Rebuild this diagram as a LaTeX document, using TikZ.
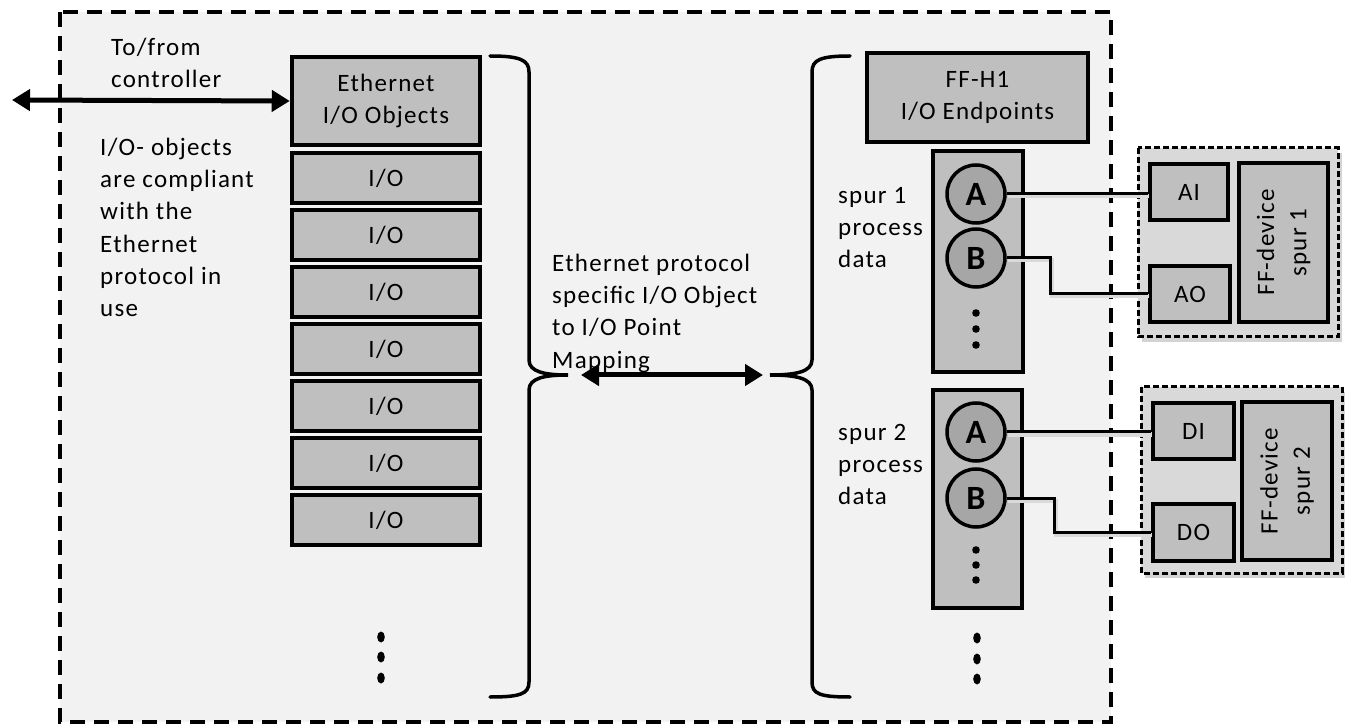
\documentclass[tikz,border=0pt]{standalone}
\usepackage{fontspec}
\setmainfont{Carlito}[LetterSpace=5]
\newfontfamily\circfont{Carlito}[LetterSpace=0]
\usetikzlibrary{arrows.meta,shadows,calc}

\definecolor{panelbg}{HTML}{F2F2F2}
\definecolor{boxgray}{HTML}{BFBFBF}
\definecolor{devgray}{HTML}{D9D9D9}
\definecolor{circgray}{HTML}{A6A6A6}

\newcommand\txtfont{\fontsize{25}{32.2}\selectfont}

\tikzset{
  panel/.style={draw=black, fill=panelbg, line width=4pt, dash pattern=on 15pt off 9pt},
  graybox/.style={draw=black, fill=boxgray, line width=4.5pt, inner sep=0pt, align=center, font=\txtfont},
  iobox/.style={graybox, minimum width=188pt, minimum height=50pt},
  column/.style={draw=black, fill=boxgray, line width=4.5pt, inner sep=0pt},
  point/.style={circle, draw=black, fill=circgray, line width=3.5pt, minimum size=58pt, inner sep=0pt,
                font=\circfont\bfseries\fontsize{34}{34}\selectfont},
  devpanel/.style={draw=black, fill=devgray, line width=3pt, dash pattern=on 6pt off 3pt,
                   drop shadow={opacity=0.35, shadow xshift=4pt, shadow yshift=-5pt}},
  label/.style={font=\txtfont, align=left, anchor=north west, inner sep=0pt},
  brace/.style={draw=black, line width=3.5pt, line cap=round},
  wire/.style={draw=black, line width=3pt,
               preaction={draw=black!15, line width=4pt, transform canvas={shift={(1.5pt,-2.5pt)}}}},
  bigarrow/.style={line width=5pt, {Triangle[length=18pt,width=21pt]}-{Triangle[length=18pt,width=21pt]}},
}

\begin{document}
\begin{tikzpicture}[x=1pt,y=-1pt]
\useasboundingbox (0,0) rectangle (1345,727);

% dashed frame of the gateway
\path[panel] (60,12) rectangle (1111,722);

% Ethernet side: object stack
\node[graybox, minimum width=188pt, minimum height=88pt] (eth) at (386,101) {Ethernet\\I/O Objects};
\foreach \i/\y in {1/178,2/235,3/292,4/349,5/406,6/463,7/520}
  \node[iobox] (io\i) at (386,\y) {I/O};
\foreach \y in {637,657,678}
  \fill (381,\y) ellipse (3.8pt and 5.5pt);

% texts on the left
\node[label] (ctrltxt) at (111,38) {To/from\\controller};
\node[label] (compl) at (100,138) {I/O- objects\\are compliant\\with the\\Ethernet\\protocol in\\use};

\coordinate (ctrl) at (12,100);
\draw[bigarrow] (ctrl) -- (eth.west);

% closing brace of the Ethernet objects
\draw[brace] (490,56) .. controls (520,56) and (529,60) .. (529,72)
  -- (529,360) .. controls (529,372) and (545,375) .. (568,375)
  .. controls (545,375) and (529,378) .. (529,390)
  -- (529,682) .. controls (529,694) and (520,697) .. (490,697);
% opening brace of the FF-H1 endpoints
\draw[brace] (850,56) .. controls (820,56) and (812,60) .. (812,72)
  -- (812,360) .. controls (812,372) and (795,375) .. (770,375)
  .. controls (795,375) and (812,378) .. (812,390)
  -- (812,682) .. controls (812,694) and (820,697) .. (850,697);

% mapping
\node[label] (maptxt) at (552,254) {Ethernet protocol\\specific I/O Object\\to I/O Point\\Mapping};
\coordinate (mapL) at (581,375);
\coordinate (mapR) at (763,375);
\draw[bigarrow] (mapL) -- (mapR);

% FF-H1 side
\node[graybox, minimum width=221pt, minimum height=89pt] (ffh1) at (977.5,97.5) {FF-H1\\I/O Endpoints};
\node[column, minimum width=90pt, minimum height=221pt] (spur1) at (978,261.5) {};
\node[column, minimum width=89pt, minimum height=218pt] (spur2) at (977.5,499) {};

\node[label] (sp1txt) at (838,187) {spur 1\\process\\data};
\node[label] (sp2txt) at (838,424) {spur 2\\process\\data};

\node[point] (A1) at (976,194) {A};
\node[point] (B1) at (976,258) {B};
\node[point] (A2) at (976,432) {A};
\node[point] (B2) at (976,498) {B};
\foreach \y in {313,329,345} \fill (976,\y) circle (3.8pt);
\foreach \y in {550,565,580} \fill (976,\y) circle (3.8pt);
\foreach \y in {638,659,679}
  \fill (977,\y) ellipse (3.8pt and 5.5pt);

% field devices
\path[devpanel] (1138,148) rectangle (1338,337);
\node[graybox, minimum width=78pt, minimum height=56pt] (AI) at (1189,192) {AI};
\node[graybox, minimum width=80pt, minimum height=56pt] (AO) at (1190,294) {AO};
\node[graybox, minimum width=89pt, minimum height=159pt] (dev1) at (1283.5,242.5) {};
\node[font=\txtfont, rotate=90, align=center] (dev1txt) at (dev1) {FF-device\\spur 1};

\path[devpanel] (1141,387) rectangle (1342,573);
\node[graybox, minimum width=81pt, minimum height=56pt] (DI) at (1193.5,431) {DI};
\node[graybox, minimum width=81pt, minimum height=57pt] (DO) at (1193.5,532.5) {DO};
\node[graybox, minimum width=90pt, minimum height=158pt] (dev2) at (1287,481) {};
\node[font=\txtfont, rotate=90, align=center] (dev2txt) at (dev2) {FF-device\\spur 2};

% wiring from endpoints to device blocks
\draw[wire] (A1.east) -- (A1 -| AI.west);
\draw[wire] (B1.east) -- ++(44,0) |- (AO.west);
\draw[wire] (A2.east) -- (A2 -| DI.west);
\draw[wire] (B2.east) -- ++(48,0) |- (DO.west);
\end{tikzpicture}
\end{document}
